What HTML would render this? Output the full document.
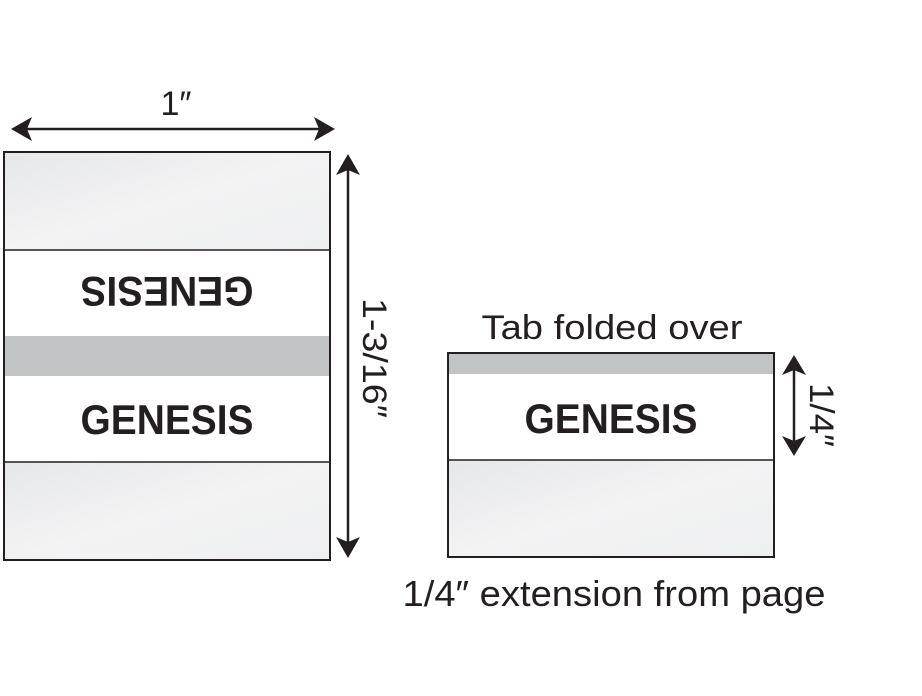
<!DOCTYPE html>
<html><head><meta charset="utf-8"><style>
html,body{margin:0;padding:0;background:#fff;width:922px;height:696px;overflow:hidden}
svg{display:block}
text{font-family:"Liberation Sans",sans-serif;fill:#231f20}
</style></head><body>
<svg width="922" height="696" viewBox="0 0 922 696" xmlns="http://www.w3.org/2000/svg">
<defs>
<linearGradient id="g" x1="0" y1="0" x2="1" y2="1">
<stop offset="0" stop-color="#e6e7e9"/><stop offset="0.5" stop-color="#f3f3f4"/><stop offset="1" stop-color="#eeeff0"/>
</linearGradient>
</defs>
<line x1="20" y1="129" x2="326" y2="129" stroke="#231f20" stroke-width="2.5"/>
<path d="M11,129 L32,117 L27,129 L32,141 Z" fill="#231f20"/>
<path d="M335,129 L314,117 L319,129 L314,141 Z" fill="#231f20"/>
<text x="176" y="115" font-size="34" text-anchor="middle">1″</text>
<rect x="4" y="152" width="326" height="98" fill="url(#g)"/>
<rect x="4" y="336" width="326" height="40" fill="#c1c3c5"/>
<rect x="4" y="462" width="326" height="98" fill="url(#g)"/>
<line x1="4" y1="250" x2="330" y2="250" stroke="#231f20" stroke-width="1.5"/>
<line x1="4" y1="462" x2="330" y2="462" stroke="#231f20" stroke-width="1.5"/>
<rect x="4" y="152" width="326" height="408" fill="none" stroke="#231f20" stroke-width="2"/>
<text x="167" y="434" font-size="42" font-weight="bold" text-anchor="middle" textLength="173" lengthAdjust="spacingAndGlyphs">GENESIS</text>
<text x="167" y="434" font-size="42" font-weight="bold" text-anchor="middle" textLength="173" lengthAdjust="spacingAndGlyphs" transform="translate(0,711) scale(1,-1) translate(334,0) scale(-1,1)">GENESIS</text>
<line x1="348" y1="164" x2="348" y2="548" stroke="#231f20" stroke-width="2.5"/>
<path d="M348,154 L336,175 L348,170 L360,175 Z" fill="#231f20"/>
<path d="M348,558 L336,537 L348,542 L360,537 Z" fill="#231f20"/>
<text x="0" y="0" font-size="34" text-anchor="middle" textLength="120" lengthAdjust="spacingAndGlyphs" transform="translate(363,358) rotate(90)">1-3/16″</text>
<rect x="448" y="353" width="326" height="21" fill="#c1c3c5"/>
<rect x="448" y="460" width="326" height="97" fill="url(#g)"/>
<line x1="448" y1="460" x2="774" y2="460" stroke="#231f20" stroke-width="1.5"/>
<rect x="448" y="353" width="326" height="204" fill="none" stroke="#231f20" stroke-width="2"/>
<text x="611" y="433" font-size="42" font-weight="bold" text-anchor="middle" textLength="173" lengthAdjust="spacingAndGlyphs">GENESIS</text>
<text x="612" y="339" font-size="34" text-anchor="middle" textLength="261" lengthAdjust="spacingAndGlyphs">Tab folded over</text>
<text x="614" y="606" font-size="36" text-anchor="middle" textLength="423" lengthAdjust="spacingAndGlyphs">1/4″ extension from page</text>
<line x1="794" y1="364" x2="794" y2="446" stroke="#231f20" stroke-width="2.5"/>
<path d="M794,355 L782,375 L794,370 L806,375 Z" fill="#231f20"/>
<path d="M794,456 L782,436 L794,441 L806,436 Z" fill="#231f20"/>
<text x="0" y="0" font-size="34" text-anchor="middle" textLength="64" lengthAdjust="spacingAndGlyphs" transform="translate(810,415) rotate(90)">1/4″</text>
</svg>
</body></html>
